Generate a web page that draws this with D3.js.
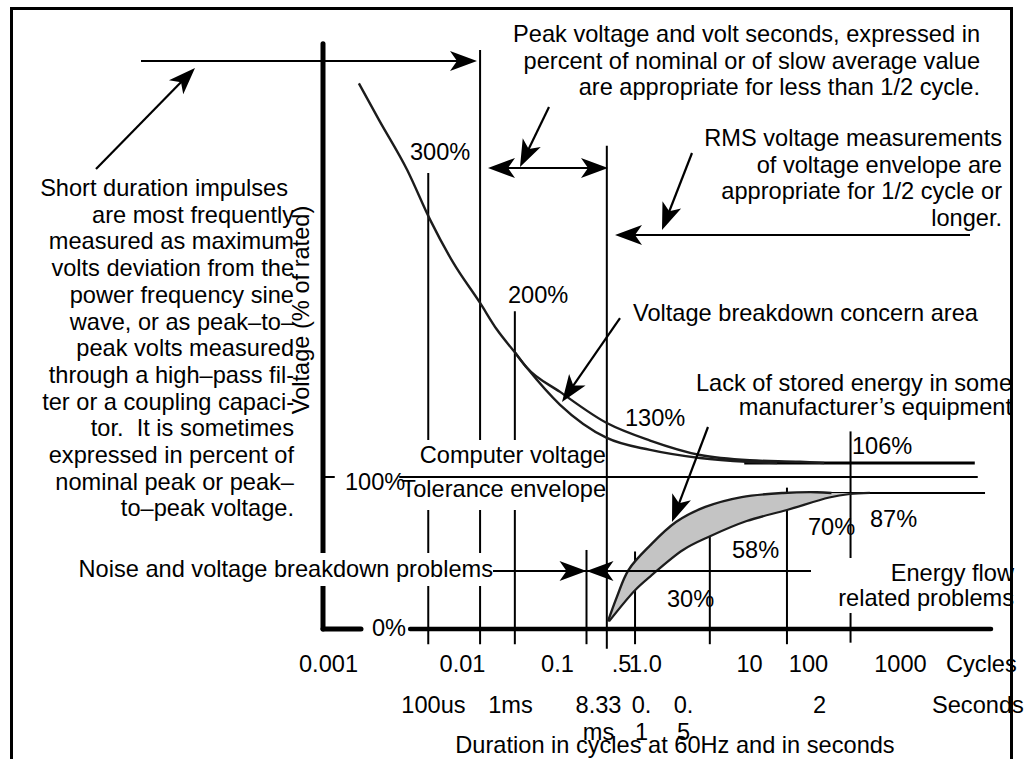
<!DOCTYPE html>
<html>
<head>
<meta charset="utf-8">
<script src="https://cdn.jsdelivr.net/npm/d3@7"></script>
<style>
  body { margin: 0; background: #fff; }
  svg { display: block; font-family: "Liberation Sans", Arial, sans-serif; font-size: 23.6px; }
</style>
</head>
<body>
<svg id="chart" width="1032" height="759"></svg>
<script>
// duration axis, in cycles at 60Hz
const cycleTicks = [0.001, 0.01, 0.1, 0.5, 1, 10, 100, 1000];
const cycleLabels = ["0.001", "0.01", "0.1", ".5", "1.0", "10", "100", "1000"];
// duration axis, in seconds
const secondTicks = [0.0001, 0.001, 0.00833, 0.1, 0.5, 2];
const secondLabels = ["100us", "1ms", "8.33\nms", "0.\n1", "0.\n5", "2"];

// vertical marker lines: position in cycles, top and bottom in % of rated
const markerCycles = [0.0056, 0.0155, 0.036, 0.21, 0.35, 0.75, 4.2, 44, 290];
const markerTop = [300, 381, 209, 52, 318, 51, 72, 93, 130];
const markerBottom = [-10, -10, -10, -10, -13, -10, -10, -10, -9];

// overvoltage curve [cycles, % of rated]
const upperTrunk = [[0.0017, 359], [0.0024, 335], [0.0039, 302], [0.0058, 269], [0.0086, 241],
  [0.0155, 214.5], [0.0233, 197], [0.036, 182], [0.048, 172]];
const upperOuter = [[0.048, 172], [0.108, 156], [0.35, 135.5], [1.12, 124], [3.38, 114.5],
  [10.4, 111], [73, 110], [150, 109.2]];
const upperInner = [[0.048, 172], [0.108, 147.5], [0.35, 125.7], [1.12, 117.8], [3.38, 112.5],
  [9.6, 110], [30, 109.2]];

// undervoltage band (lack of stored energy)
const bandTop = [[0.36, 5], [0.45, 21], [0.62, 38.8], [1.12, 55], [2.0, 70.5], [3.8, 80.3],
  [8.5, 86.8], [38, 89.5], [125, 90], [180, 89.5]];
const bandBottom = [[0.37, 5], [0.75, 25.5], [1.12, 34.5], [2.32, 52], [4.22, 61], [9.5, 71],
  [44, 78.3], [170, 86.5], [286, 88.8], [470, 89.5]];

// steady state levels: % of rated, start and end in cycles
const refLevels = [100, 109.2, 89.5];
const refFrom = [0.0034, 9, 135];
const refTo = [7000, 6500, 8400];

const pctLabels = ["300%", "200%", "130%", "106%", "87%", "70%", "58%", "30%"];

// ---- layout ----
const svg = d3.select("#chart");
const ink = "#000";
const curveInk = "#1c1c1c";
const fontSize = 23.6;

// the scan's tick labels are not evenly spaced, so both scales are piecewise
const x = d3.scaleLog().domain(cycleTicks).range([328, 462, 557, 621, 645, 749, 808, 900]);
const xs = d3.scaleLog().domain(secondTicks).range([433, 510, 598, 641, 683, 819]);
const y = d3.scaleLinear().domain([0, 100]).range([629, 477]);
const axisX = 323;

// axes
const axes = svg.append("g").attr("stroke", ink).attr("stroke-linecap", "round");
axes.append("line").attr("x1", axisX).attr("x2", axisX).attr("y1", y(385)).attr("y2", y(0))
  .attr("stroke-width", 5);
axes.append("line").attr("x1", axisX).attr("x2", 361).attr("y1", y(0)).attr("y2", y(0))
  .attr("stroke-width", 5);
axes.append("line").attr("x1", axisX).attr("x2", 334).attr("y1", y(100)).attr("y2", y(100))
  .attr("stroke-width", 2);
axes.append("line").attr("x1", x(0.0041)).attr("x2", x(9750)).attr("y1", y(0)).attr("y2", y(0))
  .attr("stroke-width", 4.5);

// vertical marker lines
svg.append("g").selectAll("line").data(markerCycles).join("line")
  .attr("x1", d => x(d)).attr("x2", d => x(d))
  .attr("y1", (d, i) => y(markerTop[i])).attr("y2", (d, i) => y(markerBottom[i]))
  .attr("stroke", ink).attr("stroke-width", 2);

// white boxes behind text that interrupts the lines
const knockouts = [[400, 440, 204, 70], [70, 553, 425, 33], [840, 558, 172, 55]];
svg.append("g").selectAll("rect").data(knockouts).join("rect")
  .attr("x", d => d[0]).attr("y", d => d[1]).attr("width", d => d[2]).attr("height", d => d[3])
  .attr("fill", "#fff");

// steady state lines
const refStroke = [2, 3, 2];
svg.append("g").selectAll("line").data(refLevels).join("line")
  .attr("x1", (d, i) => x(refFrom[i])).attr("x2", (d, i) => x(refTo[i]))
  .attr("y1", d => y(d)).attr("y2", d => y(d))
  .attr("stroke", ink).attr("stroke-width", (d, i) => refStroke[i]);

// overvoltage curves
const smooth = d3.line().x(d => x(d[0])).y(d => y(d[1])).curve(d3.curveMonotoneX);
svg.append("path").attr("d", smooth(upperTrunk.concat(upperOuter.slice(1))))
  .attr("fill", "none").attr("stroke", curveInk).attr("stroke-width", 2.4);
svg.append("path").attr("d", smooth(upperTrunk.slice(-2).concat(upperInner.slice(1))))
  .attr("fill", "none").attr("stroke", curveInk).attr("stroke-width", 2.4);

// undervoltage band
const soft = d3.line().x(d => x(d[0])).y(d => y(d[1])).curve(d3.curveCatmullRom);
const bandPath = soft(bandTop) + soft(bandBottom.slice().reverse()).replace("M", "L") + "Z";
svg.append("path").attr("d", bandPath).attr("fill", "#c4c4c4").attr("stroke", "none");
svg.append("path").attr("d", soft(bandTop)).attr("fill", "none").attr("stroke", curveInk).attr("stroke-width", 2.4);
svg.append("path").attr("d", soft(bandBottom)).attr("fill", "none").attr("stroke", curveInk).attr("stroke-width", 2.2);

// arrows
function head(g, x1, y1, x2, y2) {
  const a = Math.atan2(y2 - y1, x2 - x1) * 180 / Math.PI;
  g.append("path").attr("d", "M0,0L-27,-10L-20,0L-27,10Z")
    .attr("transform", `translate(${x2},${y2}) rotate(${a})`).attr("fill", ink);
}
function arrow(x1, y1, x2, y2, both) {
  const g = svg.append("g");
  const a = Math.atan2(y2 - y1, x2 - x1);
  const sx = both ? x1 + Math.cos(a) * 18 : x1, sy = both ? y1 + Math.sin(a) * 18 : y1;
  g.append("line").attr("x1", sx).attr("y1", sy)
    .attr("x2", x2 - Math.cos(a) * 18).attr("y2", y2 - Math.sin(a) * 18)
    .attr("stroke", ink).attr("stroke-width", 2.2);
  head(g, x1, y1, x2, y2);
  if (both) head(g, x2, y2, x1, y1);
}
const arrows = [
  [141, 61, 477, 61], [96, 169, 195, 68], [549, 107, 520, 167], [488, 168, 608, 168, true],
  [692, 153, 662, 230], [970, 235, 615, 235], [620, 318, 562, 402], [708, 427, 672, 522]
];
arrows.forEach(d => arrow(d[0], d[1], d[2], d[3], d[4]));

// noise arrows meeting at the 8.33 ms line
const noiseY = 571, noiseX = x(0.21);
const ng = svg.append("g");
ng.append("line").attr("x1", 493).attr("x2", 811).attr("y1", noiseY).attr("y2", noiseY)
  .attr("stroke", ink).attr("stroke-width", 2);
head(ng, 493, noiseY, noiseX, noiseY);
head(ng, 811, noiseY, noiseX, noiseY);

// text blocks
function block(lines, tx, ty, lh, anchor) {
  const t = svg.append("text").attr("text-anchor", anchor).style("white-space", "pre").attr("fill", ink);
  lines.forEach((l, i) => t.append("tspan").attr("x", tx).attr("y", ty + i * lh).text(l));
  return t;
}
block(["Peak voltage and volt seconds, expressed in",
  "percent of nominal or of slow average value",
  "are appropriate for less than 1/2 cycle."], 980, 42, 26.7, "end");
block(["RMS voltage measurements", "of voltage envelope are",
  "appropriate for 1/2 cycle or", "longer."], 1002, 146, 26.7, "end");
block(["Short duration impulses"], 288, 196, 26.7, "end");
block(["are most frequently", "measured as maximum", "volts deviation from the",
  "power frequency sine", "wave, or as peak\u2013to\u2013", "peak volts measured",
  "through a high\u2013pass fil-", "ter or a coupling capaci-", "tor.  It is sometimes",
  "expressed in percent of", "nominal peak or peak\u2013", "to\u2013peak voltage."], 294, 222.7, 26.7, "end");
block(["Voltage breakdown concern area"], 633, 321, 0, "start");
block(["Lack of stored energy in some", "manufacturer\u2019s equipment"], 1012, 391, 24, "end");
block(["Computer voltage", "Tolerance envelope"], 606, 463, 34, "end");
block(["Noise and voltage breakdown problems"], 493, 577, 0, "end");
block(["Energy flow", "related problems"], 1014, 581, 25, "end");

svg.append("text").attr("transform", "translate(309,310) rotate(-90)")
  .attr("text-anchor", "middle").text("Voltage (% of rated)");

// percentage labels
const pctPos = [[410, 160], [508, 303], [625, 426], [852, 454], [870, 527], [808, 535], [732, 558], [667, 607]];
svg.append("g").selectAll("text").data(pctLabels).join("text")
  .attr("x", (d, i) => pctPos[i][0]).attr("y", (d, i) => pctPos[i][1]).text(d => d);
svg.append("text").attr("x", 345).attr("y", y(100) + 13).text("100%");
svg.append("text").attr("x", 372).attr("y", y(0) + 7).text("0%");

// bottom axes
function styleAxis(g) {
  g.select(".domain").remove();
  g.attr("font-size", fontSize).attr("font-family", "Liberation Sans, Arial, sans-serif");
}
svg.append("g").attr("transform", `translate(0,${y(0)})`)
  .call(d3.axisBottom(x).tickValues(cycleTicks).tickFormat((d, i) => cycleLabels[i]).tickSize(0).tickPadding(26.5))
  .call(styleAxis);
svg.append("g").attr("transform", `translate(0,${y(0)})`)
  .call(d3.axisBottom(xs).tickValues(secondTicks).tickFormat((d, i) => secondLabels[i]).tickSize(0).tickPadding(67.5))
  .call(styleAxis)
  .selectAll("text").each(function (d, i) {
    const t = d3.select(this);
    const parts = secondLabels[i].split("\n");
    t.text(null);
    parts.forEach((p, j) => t.append("tspan").attr("x", 0).attr("dy", j ? 27 : null).text(p));
  });
svg.append("text").attr("x", 946).attr("y", 672).text("Cycles");
svg.append("text").attr("x", 932).attr("y", 713).text("Seconds");
svg.append("text").attr("x", 675).attr("y", 753).attr("text-anchor", "middle")
  .text("Duration in cycles at 60Hz and in seconds");

// frame
svg.append("rect").attr("x", 11.5).attr("y", 8.5).attr("width", 1000).attr("height", 800)
  .attr("fill", "none").attr("stroke", ink).attr("stroke-width", 3);
</script>
</body>
</html>
